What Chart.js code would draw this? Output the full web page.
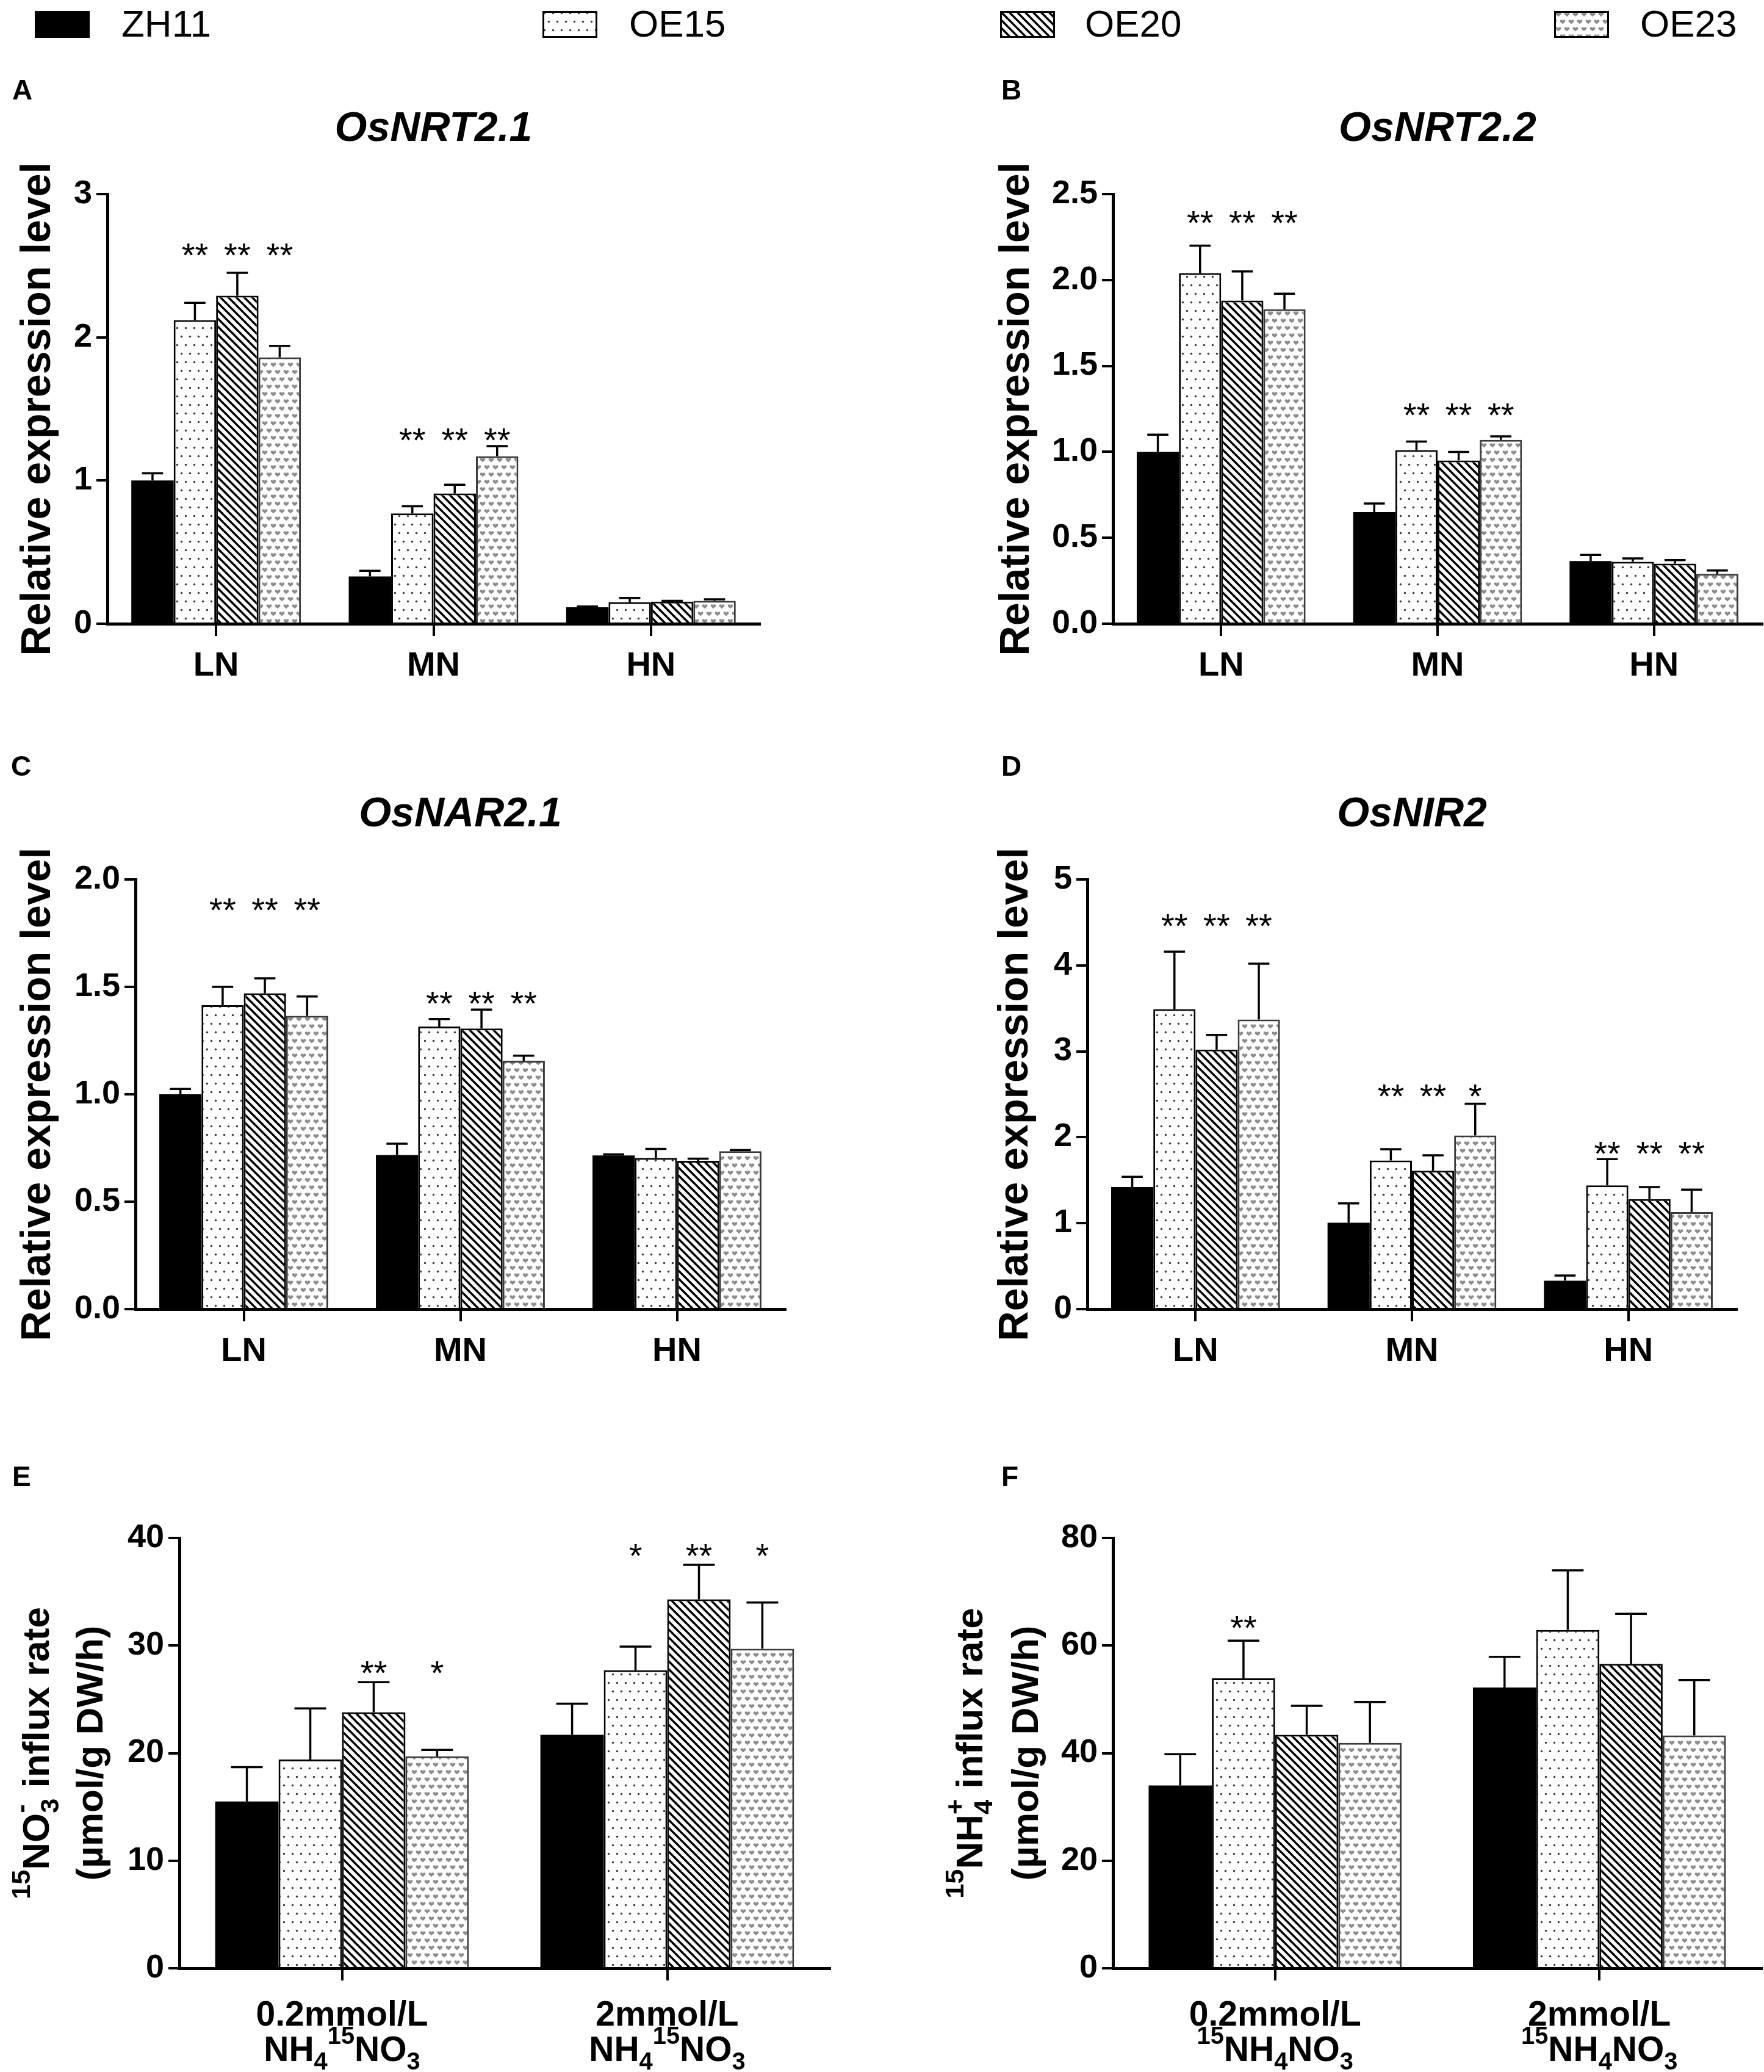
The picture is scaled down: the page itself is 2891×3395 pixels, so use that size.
<!DOCTYPE html>
<html>
<head>
<meta charset="utf-8">
<script src="https://cdn.jsdelivr.net/npm/chart.js@4.4.1/dist/chart.umd.min.js"></script>
<style>
html, body { margin: 0; padding: 0; background: #fff; }
#page { position: relative; width: 2891px; height: 3395px; background: #fff; font-family: "Liberation Sans", Arial, sans-serif; overflow: hidden; }
.panel { position: absolute; }
.sw { position: absolute; top: 18px; width: 90px; height: 44px; }
.lt { position: absolute; top: 8px; font-size: 62px; line-height: 62px; color: #000; white-space: nowrap; }
</style>
</head>
<body>
<div id="page">
  <canvas class="sw" id="sw0" width="90" height="44" style="left:57px"></canvas>
  <span class="lt" style="left:199px">ZH11</span>
  <canvas class="sw" id="sw1" width="90" height="44" style="left:889px"></canvas>
  <span class="lt" style="left:1031px">OE15</span>
  <canvas class="sw" id="sw2" width="90" height="44" style="left:1639px"></canvas>
  <span class="lt" style="left:1778px">OE20</span>
  <canvas class="sw" id="sw3" width="90" height="44" style="left:2547px"></canvas>
  <span class="lt" style="left:2688px">OE23</span>
</div>
<script>
Chart.defaults.font.family = '"Liberation Sans", Arial, sans-serif';
Chart.defaults.color = '#000';

const lineNames = ['ZH11', 'OE15', 'OE20', 'OE23'];
const exprGroups = ['LN', 'MN', 'HN'];
const influxGroups = ['0.2mmol/L', '2mmol/L'];

// rows = ZH11, OE15, OE20, OE23 ; columns = groups
// A  OsNRT2.1
const nrt21Mean = [[1.00, 0.33, 0.115], [2.12, 0.77, 0.15], [2.29, 0.91, 0.155], [1.86, 1.17, 0.16]];
const nrt21Err  = [[0.05, 0.04, 0.005], [0.12, 0.05, 0.03], [0.16, 0.06, 0.005], [0.08, 0.07, 0.01]];
const nrt21Stars = [['', '**', '**', '**'], ['', '**', '**', '**'], ['', '', '', '']];
const nrt21StarAt = [2.63, 1.34, null];

// B  OsNRT2.2
const nrt22Mean = [[1.00, 0.65, 0.365], [2.04, 1.01, 0.36], [1.88, 0.95, 0.35], [1.83, 1.07, 0.29]];
const nrt22Err  = [[0.10, 0.05, 0.035], [0.16, 0.05, 0.02], [0.17, 0.05, 0.02], [0.09, 0.02, 0.02]];
const nrt22Stars = [['', '**', '**', '**'], ['', '**', '**', '**'], ['', '', '', '']];
const nrt22StarAt = [2.38, 1.26, null];

// C  OsNAR2.1
const nar21Mean = [[1.00, 0.717, 0.715], [1.415, 1.315, 0.704], [1.47, 1.306, 0.69], [1.365, 1.156, 0.735]];
const nar21Err  = [[0.025, 0.053, 0.005], [0.085, 0.035, 0.042], [0.07, 0.088, 0.01], [0.09, 0.024, 0.005]];
const nar21Stars = [['', '**', '**', '**'], ['', '**', '**', '**'], ['', '', '', '']];
const nar21StarAt = [1.895, 1.46, null];

// D  OsNIR2
const nir2Mean = [[1.42, 1.005, 0.33], [3.49, 1.73, 1.44], [3.02, 1.61, 1.28], [3.37, 2.02, 1.13]];
const nir2Err  = [[0.12, 0.225, 0.06], [0.67, 0.13, 0.305], [0.17, 0.18, 0.14], [0.65, 0.37, 0.26]];
const nir2Stars = [['', '**', '**', '**'], ['', '**', '**', '*'], ['', '**', '**', '**']];
const nir2StarAt = [4.55, 2.57, 1.90];

// E  15NO3- influx
const noMean = [[15.5, 21.7], [19.4, 27.7], [23.8, 34.3], [19.7, 29.7]];
const noErr  = [[3.2, 2.9], [4.75, 2.2], [2.8, 3.2], [0.6, 4.3]];
const noStars = [['', '', '**', '*'], ['', '*', '**', '*']];
const noStarAt = [28.2, 39.1];

// F  15NH4+ influx
const nhMean = [[34.0, 52.2], [53.9, 62.9], [43.4, 56.6], [41.9, 43.3]];
const nhErr  = [[5.8, 5.7], [7.0, 11.1], [5.4, 9.3], [7.6, 10.3]];
const nhStars = [['', '**', '', ''], ['', '', '', '']];
const nhStarAt = [64.8, null];

// rich text pieces: n = normal, sup, sub, supx = superscript stacked over previous
const noTick2 = [['NH', 'n'], ['4', 'sub'], ['15', 'sup'], ['NO', 'n'], ['3', 'sub']];
const nhTick2 = [['15', 'sup'], ['NH', 'n'], ['4', 'sub'], ['NO', 'n'], ['3', 'sub']];
const noAxis = [[['15', 'sup'], ['NO', 'n'], ['3', 'sub'], ['-', 'supx'], [' influx rate', 'n']], [['(µmol/g DW/h)', 'n']]];
const nhAxis = [[['15', 'sup'], ['NH', 'n'], ['4', 'sub'], ['+', 'supx'], [' influx rate', 'n']], [['(µmol/g DW/h)', 'n']]];

const FONT = '"Liberation Sans", Arial, sans-serif';

function tile(w, h, draw) {
  const c = document.createElement('canvas');
  c.width = w; c.height = h;
  const g = c.getContext('2d');
  g.fillStyle = '#fff';
  g.fillRect(0, 0, w, h);
  draw(g);
  return g.createPattern(c, 'repeat');
}

function heart(g, x, y) {
  g.beginPath();
  g.arc(x - 2.2, y - 1.5, 2.2, 0, Math.PI * 2);
  g.arc(x + 2.2, y - 1.5, 2.2, 0, Math.PI * 2);
  g.fill();
  g.beginPath();
  g.moveTo(x - 4.4, y - 1); g.lineTo(x, y + 3.5); g.lineTo(x + 4.4, y - 1);
  g.fill();
}

const fills = [
  '#000',
  tile(14, 28, g => {
    g.fillStyle = '#333';
    [[3.5, 3.5], [10.5, 17.5]].forEach(([x, y]) => { g.beginPath(); g.arc(x, y, 1.7, 0, Math.PI * 2); g.fill(); });
  }),
  tile(13, 13, g => {
    g.strokeStyle = '#000'; g.lineWidth = 3.5;
    for (let k = -1; k <= 1; k++) { g.beginPath(); g.moveTo(k * 13 - 2, -2); g.lineTo(k * 13 + 15, 15); g.stroke(); }
  }),
  tile(14, 24, g => {
    g.fillStyle = '#8c8c8c';
    [[7, 6], [0, 18], [14, 18]].forEach(([x, y]) => heart(g, x, y));
  })
];
const borders = ['#000', '#000', '#000', '#3a3a3a'];

// legend swatches
for (let s = 0; s < 4; s++) {
  const g = document.getElementById('sw' + s).getContext('2d');
  g.fillStyle = fills[s];
  g.fillRect(0, 0, 90, 44);
  g.strokeStyle = '#000'; g.lineWidth = 3;
  g.strokeRect(1.5, 1.5, 87, 41);
}

function drawRich(ctx, segs, cx, base, size) {
  const parts = [];
  let x = 0;
  segs.forEach(([txt, kind]) => {
    const s = kind === 'n' ? size : size * 0.7;
    ctx.font = 'bold ' + s + 'px ' + FONT;
    const w = ctx.measureText(txt).width;
    let x0 = x;
    if (kind === 'supx' && parts.length) { x0 = parts[parts.length - 1].x; x = Math.max(x, x0 + w); }
    else x += w;
    let dy = 0;
    if (kind === 'sup' || kind === 'supx') dy = -0.5 * size;
    if (kind === 'sub') dy = 0.25 * size;
    parts.push({ txt, s, x: x0, dy });
  });
  const left = cx - x / 2;
  ctx.textAlign = 'left';
  ctx.textBaseline = 'alphabetic';
  parts.forEach(p => {
    ctx.font = 'bold ' + p.s + 'px ' + FONT;
    ctx.fillText(p.txt, left + p.x, base + p.dy);
  });
}

const decor = {
  id: 'decor',
  afterDatasetsDraw(chart) {
    const p = chart.canvas.panel;
    const ctx = chart.ctx, y = chart.scales.y;
    ctx.save();
    ctx.strokeStyle = '#000';
    ctx.lineWidth = 3.5;
    p.errs.forEach((row, s) => {
      chart.getDatasetMeta(s).data.forEach((bar, j) => {
        const top = y.getPixelForValue(p.means[s][j] + row[j]);
        const half = bar.width * 0.25;
        ctx.beginPath();
        ctx.moveTo(bar.x, bar.y); ctx.lineTo(bar.x, top);
        ctx.moveTo(bar.x - half, top); ctx.lineTo(bar.x + half, top);
        ctx.stroke();
      });
    });
    ctx.fillStyle = '#000';
    ctx.font = '56px ' + FONT;
    ctx.textAlign = 'center';
    ctx.textBaseline = 'alphabetic';
    p.stars.forEach((row, j) => {
      if (p.starAt[j] == null) return;
      const py = y.getPixelForValue(p.starAt[j]) + 32;
      row.forEach((t, s) => {
        if (!t) return;
        const bar = chart.getDatasetMeta(s).data[j];
        ctx.fillText(t, bar.x, py);
      });
    });
    ctx.restore();
  },
  afterDraw(chart) {
    const p = chart.canvas.panel;
    const ctx = chart.ctx, area = chart.chartArea;
    ctx.save();
    ctx.fillStyle = '#000';
    ctx.textBaseline = 'alphabetic';
    ctx.textAlign = 'left';
    ctx.font = 'bold 46px ' + FONT;
    ctx.fillText(p.letter, p.lx, p.ly);
    if (p.title) {
      ctx.font = 'italic bold 68px ' + FONT;
      ctx.textAlign = 'center';
      ctx.fillText(p.title, (area.left + area.right) / 2, area.top - 87);
    }
    if (p.xRich) {
      const xs = chart.scales.x;
      p.cats.forEach((c, j) => {
        const px = xs.getPixelForTick(j);
        drawRich(ctx, [[c, 'n']], px, area.bottom + 94, 57);
        drawRich(ctx, p.xRich, px, area.bottom + 152, 57);
      });
    }
    if (p.yRich) {
      const cy = (area.top + area.bottom) / 2;
      p.yRich.forEach((segs, k) => {
        ctx.save();
        ctx.translate(p.yRichX[k], cy);
        ctx.rotate(-Math.PI / 2);
        drawRich(ctx, segs, 0, 0, 62);
        ctx.restore();
      });
    }
    ctx.restore();
  }
};

const page = document.getElementById('page');

function makePanel(p) {
  const div = document.createElement('div');
  div.className = 'panel';
  div.style.left = p.box[0] + 'px';
  div.style.top = p.box[1] + 'px';
  div.style.width = p.box[2] + 'px';
  div.style.height = p.box[3] + 'px';
  const cv = document.createElement('canvas');
  cv.panel = p;
  div.appendChild(cv);
  page.appendChild(div);

  new Chart(cv, {
    type: 'bar',
    data: {
      labels: p.cats,
      datasets: lineNames.map((n, s) => ({
        label: n,
        data: p.means[s],
        backgroundColor: fills[s],
        borderColor: borders[s],
        borderWidth: s === 0 ? 0 : 3,
        categoryPercentage: 0.78,
        barPercentage: 1
      }))
    },
    options: {
      responsive: true,
      maintainAspectRatio: false,
      animation: false,
      devicePixelRatio: 1,
      events: [],
      layout: { padding: { left: 0, top: p.pT, right: p.pR, bottom: 0 } },
      plugins: { legend: { display: false }, tooltip: { enabled: false } },
      scales: {
        x: {
          type: 'category',
          offset: true,
          afterFit: s => { s.height = p.xH; },
          grid: { display: true, drawOnChartArea: false, drawTicks: true, tickLength: 20, offset: false, color: '#000', lineWidth: 4 },
          border: { display: true, color: '#000', width: 5 },
          ticks: { display: !p.xRich, font: { size: 56, weight: 'bold' }, color: '#000', padding: 16, maxRotation: 0, autoSkip: false }
        },
        y: {
          min: 0,
          max: p.max,
          afterFit: s => { s.width = p.yW; },
          ticks: { stepSize: p.step, font: { size: 54, weight: 'bold' }, color: '#000', padding: 7, callback: v => Number(v).toFixed(p.dec) },
          grid: { display: true, drawOnChartArea: false, drawTicks: true, tickLength: 18, color: '#000', lineWidth: 4 },
          border: { display: true, color: '#000', width: 5 },
          title: {
            display: !!p.yTitle,
            text: p.yTitle || '',
            color: '#000',
            font: { size: 68, weight: 'bold', lineHeight: 1.2 },
            padding: { top: p.yTitlePad || 0, bottom: 0 }
          }
        }
      }
    },
    plugins: [decor]
  });
}

const panels = [
  { box: [0, 100, 1445, 1100], yW: 176, pT: 218, pR: 200, xH: 178, letter: 'A', lx: 20, ly: 63,
    title: 'OsNRT2.1', yTitle: 'Relative expression level', yTitlePad: 22,
    cats: exprGroups, means: nrt21Mean, errs: nrt21Err, stars: nrt21Stars, starAt: nrt21StarAt, max: 3, step: 1, dec: 0 },
  { box: [1445, 100, 1446, 1100], yW: 379, pT: 218, pR: 3, xH: 178, letter: 'B', lx: 196, ly: 63,
    title: 'OsNRT2.2', yTitle: 'Relative expression level', yTitlePad: 181,
    cats: exprGroups, means: nrt22Mean, errs: nrt22Err, stars: nrt22Stars, starAt: nrt22StarAt, max: 2.5, step: 0.5, dec: 1 },
  { box: [0, 1100, 1445, 1150], yW: 222, pT: 341, pR: 158, xH: 105, letter: 'C', lx: 18, ly: 171,
    title: 'OsNAR2.1', yTitle: 'Relative expression level', yTitlePad: 22,
    cats: exprGroups, means: nar21Mean, errs: nar21Err, stars: nar21Stars, starAt: nar21StarAt, max: 2, step: 0.5, dec: 1 },
  { box: [1445, 1100, 1446, 1150], yW: 337, pT: 341, pR: 45, xH: 105, letter: 'D', lx: 196, ly: 171,
    title: 'OsNIR2', yTitle: 'Relative expression level', yTitlePad: 179,
    cats: exprGroups, means: nir2Mean, errs: nir2Err, stars: nir2Stars, starAt: nir2StarAt, max: 5, step: 1, dec: 0 },
  { box: [0, 2250, 1445, 1145], yW: 294, pT: 270, pR: 85, xH: 170, letter: 'E', lx: 20, ly: 185,
    yRich: noAxis, yRichX: [80, 168], xRich: noTick2,
    cats: influxGroups, means: noMean, errs: noErr, stars: noStars, starAt: noStarAt, max: 40, step: 10, dec: 0 },
  { box: [1445, 2250, 1446, 1145], yW: 379, pT: 270, pR: 4, xH: 170, letter: 'F', lx: 196, ly: 185,
    yRich: nhAxis, yRichX: [165, 256], xRich: nhTick2,
    cats: influxGroups, means: nhMean, errs: nhErr, stars: nhStars, starAt: nhStarAt, max: 80, step: 20, dec: 0 }
];

panels.forEach(makePanel);
</script>
</body>
</html>
